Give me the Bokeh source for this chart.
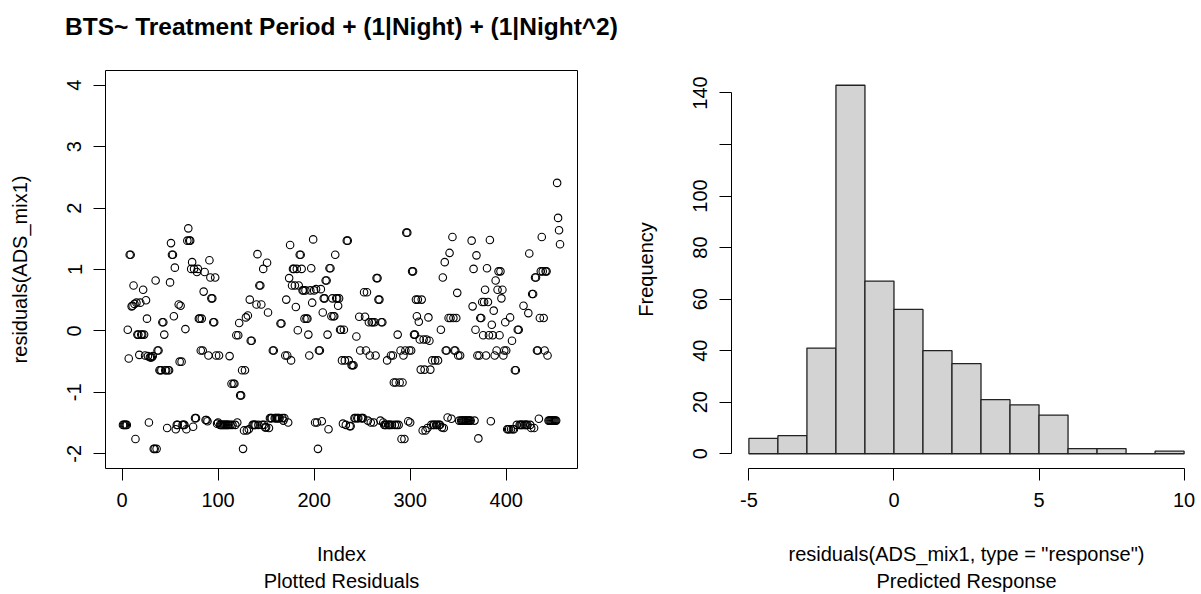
from bokeh.plotting import figure
from bokeh.models import Range1d, FixedTicker, Title
from bokeh.layouts import row
from bokeh.embed import file_html
from bokeh.resources import INLINE

FONT = "Liberation Sans"

# ---- data: residuals(ADS_mix1) by index ----
residuals = [
    -1.53, -1.53, -1.53, -1.53, -1.53, 0.02, -0.45, 1.24, 1.24, 0.40,
    0.41, 0.74, 0.44, -1.76, 0.46, -0.06, -0.06, -0.39, 0.46, -0.06,
    -0.06, 0.67, -0.06, -0.40, 0.50, 0.20, -0.41, -1.49, -0.43, -0.43,
    -0.43, -0.41, -1.92, -1.92, 0.82, -1.92, -0.32, -0.32, -0.64, -0.64,
    -0.64, 0.14, 0.14, -0.06, -0.64, -0.64, -1.58, -0.64, -0.64, 0.79,
    1.43, 1.24, 1.24, 0.24, 1.03, -1.60, -1.53, -1.53, 0.43, -0.50,
    0.41, -0.50, -1.53, -1.53, -1.53, 0.03, -1.60, 1.47, 1.67, 1.47,
    1.47, 1.01, 1.12, -1.56, 1.01, -1.42, -1.42, 0.96, 1.01, 0.20,
    0.20, -0.32, 0.20, -0.32, 0.64, 0.96, -1.45, -1.45, -1.47, -0.40,
    1.15, 0.87, 0.53, 0.53, 0.14, 0.14, 0.87, -0.40, -1.51, -1.49,
    -0.40, -1.53, -1.53, -1.53, -1.53, -1.53, -1.53, -1.53, -1.53, -1.53,
    -1.53, -0.41, -1.53, -0.86, -1.53, -0.86, -0.86, -1.53, -0.07, -1.49,
    -0.07, 0.13, -1.05, -1.05, -0.64, -1.92, -1.62, -0.64, 0.22, -1.62,
    0.25, -1.60, 0.51, -0.16, -0.16, -1.53, -1.53, -1.53, -1.53, 0.43,
    1.25, -1.53, 0.74, 0.74, 0.43, -1.53, 1.01, -1.53, -1.57, -1.57,
    1.11, 0.30, -1.58, -1.42, -1.42, -1.42, -0.32, -0.32, -1.42, -1.42,
    -1.42, -1.42, -1.42, -1.42, 0.12, 0.12, -1.42, -1.46, -1.42, -0.40,
    0.51, -0.40, -1.49, 0.86, 1.40, -0.48, 0.74, 1.01, 1.01, 0.74,
    0.39, 1.01, 0.01, 0.74, 1.24, 1.24, 1.01, 0.66, 0.66, 0.20,
    0.66, 0.20, 0.20, -0.06, -0.40, 0.66, 1.02, 0.46, 1.49, 0.66,
    -1.49, 0.68, -1.49, -1.92, -0.32, -0.32, 0.68, -1.47, 0.30, 0.53,
    0.53, 0.82, 0.82, -0.06, -1.60, 1.02, 1.02, 0.24, 0.53, 0.24,
    0.24, 1.24, 0.53, 0.53, 0.41, 0.53, 0.02, 0.02, -0.48, -1.51,
    0.02, -0.48, -1.53, 1.47, 1.47, -0.48, -1.55, -1.55, -0.56, -0.56,
    -0.56, -1.42, -1.42, -0.09, -1.42, -1.42, 0.23, -0.32, -1.42, -1.42,
    -1.42, 0.63, 0.23, -0.32, 0.63, -1.46, 0.14, -0.40, -1.49, 0.14,
    0.14, -1.49, 0.14, -0.40, 0.86, 0.86, 0.51, 0.51, -1.46, 0.14,
    0.14, -1.49, -1.53, -1.53, -1.53, -0.48, -1.53, -1.53, -1.53, -0.40,
    -1.53, -0.40, -0.84, -1.53, -0.84, -1.53, -0.06, -1.53, -0.84, -0.32,
    -1.76, -0.84, -0.40, -1.76, -0.32, 1.60, 1.60, -1.47, -0.32, -1.49,
    -0.32, 0.97, 0.97, -0.06, -0.06, 0.51, 0.24, 0.51, 0.15, -0.14,
    -0.63, 0.51, -1.62, -0.14, -0.63, -1.62, -0.14, -1.58, 0.22, -0.16,
    -0.63, -1.53, -0.48, -1.53, -1.53, -0.48, -1.53, -1.53, -0.48, -1.53,
    -1.53, 0.02, -1.57, 0.87, -1.58, 1.12, -0.32, -0.32, -1.41, 0.21,
    1.27, 0.21, -1.43, 1.53, 0.21, -0.32, -0.32, 0.21, 0.62, -0.40,
    -1.46, -0.40, -1.46, -1.46, -1.46, -1.46, -1.46, -1.46, -1.46, -1.46,
    -1.46, -1.46, -1.46, 1.47, 0.40, 1.01, -1.46, 0.02, 1.23, -0.40,
    -1.75, -0.40, 0.21, 0.21, 0.47, -0.07, 0.47, 0.67, -0.40, 1.02,
    0.47, -0.07, 1.48, -1.47, 0.10, -0.07, 0.33, -0.40, 0.82, -0.32,
    0.67, 0.97, -0.07, 0.97, 0.53, 0.67, -0.40, -0.32, 0.14, -0.32,
    -1.60, -1.60, -1.60, 0.22, -1.60, -0.16, -1.60, -1.60, -0.64, -0.64,
    -1.53, 0.02, 0.02, -1.53, -1.53, -1.53, -1.53, 0.41, -1.53, -1.53,
    -1.53, -1.53, 0.29, 1.26, -1.53, -1.58, 0.60, 0.60, -1.58, 0.87,
    0.87, -0.32, -0.32, -1.43, 0.21, 0.97, 1.53, 0.97, 0.21, -0.32,
    0.97, 0.97, -0.40, -1.46, -1.46, -1.46, -1.46, -1.46, -1.46, -1.46,
    -1.46, -1.46, 2.41, 1.84, 1.64, 1.41,
]
index = list(range(1, len(residuals) + 1))
index_ticks = [0, 100, 200, 300, 400]
resid_ticks = [-2, -1, 0, 1, 2, 3, 4]
resid_tick_labels = {-2: "-2", -1: "-1"}

# ---- data: histogram of response residuals ----
hist_breaks = [-5, -4, -3, -2, -1, 0, 1, 2, 3, 4, 5, 6, 7, 8, 9, 10]
hist_counts = [6, 7, 41, 143, 67, 56, 40, 35, 21, 19, 15, 2, 2, 0, 1]
hist_x_ticks = [-5, 0, 5, 10]
hist_x_tick_labels = {-5: "-5"}
freq_ticks = [0, 20, 40, 60, 80, 100, 120, 140]
freq_tick_labels = {120: ""}

TITLE = "BTS~ Treatment Period + (1|Night) + (1|Night^2)"


def style_axes(p, xticks, xbounds, yticks, ybounds, xlabel, ylabel):
    for ax, ticks, bounds, lab in ((p.xaxis[0], xticks, xbounds, xlabel),
                                   (p.yaxis[0], yticks, ybounds, ylabel)):
        ax.ticker = FixedTicker(ticks=ticks)
        ax.bounds = bounds
        ax.axis_line_color = "black"
        ax.axis_line_width = 1
        ax.major_tick_line_color = "black"
        ax.major_tick_line_width = 1
        ax.major_tick_in = 0
        ax.major_tick_out = 12
        ax.minor_tick_in = 0
        ax.minor_tick_out = 0
        ax.major_label_text_font = FONT
        ax.major_label_text_font_size = "20px"
        ax.major_label_text_color = "black"
        ax.major_label_standoff = 12
        ax.axis_label = lab
        ax.axis_label_text_font = FONT
        ax.axis_label_text_font_size = "20px"
        ax.axis_label_text_font_style = "normal"
        ax.axis_label_text_color = "black"
    p.xaxis[0].axis_label_standoff = 33
    p.yaxis[0].axis_label_standoff = 34
    p.yaxis[0].major_label_orientation = "vertical"


def base_fig(width, xr, yr, left, right):
    p = figure(width=width, height=594, x_range=xr, y_range=yr,
               output_backend="svg", toolbar_location=None,
               min_border_left=left, min_border_right=right,
               min_border_top=70, min_border_bottom=126)
    p.grid.visible = False
    p.background_fill_color = "white"
    p.border_fill_color = "white"
    return p


# ---- left panel: residual scatter ----
p1 = base_fig(625, Range1d(-17.2, 474.2), Range1d(-2.24, 4.24), 105, 48)
p1.outline_line_color = "black"
p1.outline_line_width = 1
p1.outline_line_alpha = 1
p1.scatter(x=index, y=residuals, marker="circle", size=7.5,
           fill_color=None, line_color="black", line_width=1.1)
style_axes(p1, index_ticks, (0, 400), resid_ticks, (-2, 4),
           "Index", "residuals(ADS_mix1)")
p1.yaxis[0].major_label_overrides = resid_tick_labels
# main title; a trailing blank line lifts it away from the box
p1.add_layout(Title(text=TITLE + "\n ", align="center", text_font=FONT,
                    text_font_size="24.5px", text_font_style="bold",
                    text_color="black", standoff=8), "above")
p1.add_layout(Title(text="Plotted Residuals", align="center", text_font=FONT,
                    text_font_size="20px", text_font_style="normal",
                    text_color="black", standoff=0), "below")

# ---- right panel: histogram ----
p2 = base_fig(576, Range1d(-5.6, 10.6), Range1d(-5.72, 148.72), 106, 0)
p2.outline_line_color = None
p2.quad(left=hist_breaks[:-1], right=hist_breaks[1:], bottom=0, top=hist_counts,
        fill_color="#D3D3D3", line_color="#222222", line_width=1.3)
style_axes(p2, hist_x_ticks, (-5, 10), freq_ticks, (0, 140),
           'residuals(ADS_mix1, type = "response")', "Frequency")
p2.xaxis[0].major_label_overrides = hist_x_tick_labels
p2.yaxis[0].major_label_overrides = freq_tick_labels
p2.add_layout(Title(text="Predicted Response", align="center", text_font=FONT,
                    text_font_size="20px", text_font_style="normal",
                    text_color="black", standoff=0), "below")

layout = row(p1, p2)
open("out.html", "w").write(file_html(layout, INLINE))
